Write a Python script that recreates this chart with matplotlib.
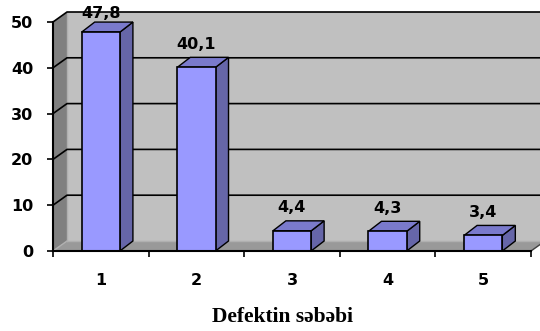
import matplotlib
matplotlib.use("Agg")
import matplotlib.pyplot as plt
from matplotlib.patches import Polygon, Rectangle

# ---------------------------------------------------------------------------
# Data
# ---------------------------------------------------------------------------

categories = ["1", "2", "3", "4", "5"]
values = [47.8, 40.1, 4.4, 4.3, 3.4]
y_ticks = [0, 10, 20, 30, 40, 50]
x_title = "Defektin səbəbi"

# ---------------------------------------------------------------------------
# Style
# ---------------------------------------------------------------------------

WALL = "#c0c0c0"
SIDE_WALL = "#808080"
FLOOR = "#999999"
BAR_FRONT = "#9999ff"
BAR_SIDE = "#6666a8"
BAR_TOP = "#7a7acc"

W, H, DPI = 540, 331, 100
fig = plt.figure(figsize=(W / DPI, H / DPI), dpi=DPI)

# front plane of the chart, in pixels
left_px, right_px, bottom_px, top_px = 53, 531, 251, 22
ax = fig.add_axes([left_px / W, 1 - bottom_px / H,
                   (right_px - left_px) / W, (bottom_px - top_px) / H])
n = len(categories)
ymax = y_ticks[-1]
ax.set_xlim(0.5, n + 0.5)
ax.set_ylim(0, ymax)

# depth offset of the back wall, converted from pixels to data units
x_per_px = n / (right_px - left_px)
y_per_px = ymax / (bottom_px - top_px)
dx, dy = 14 * x_per_px, 10 * y_per_px
bdx, bdy = 13 * x_per_px, 10 * y_per_px
x0, x1 = 0.5, n + 0.5

def poly(pts, fc, ec="none", lw=0, z=1):
    ax.add_patch(Polygon(pts, closed=True, facecolor=fc, edgecolor=ec,
                         linewidth=lw, zorder=z, clip_on=False))

# walls and floor
poly([(x0 + dx, dy), (x1 + dx, dy), (x1 + dx, ymax + dy), (x0 + dx, ymax + dy)], WALL, z=0)
poly([(x0, 0), (x0 + dx, dy), (x0 + dx, ymax + dy), (x0, ymax)], SIDE_WALL, z=0)
poly([(x0, 0), (x1, 0), (x1 + dx, dy), (x0 + dx, dy)], FLOOR, z=0)
ax.plot([x0 + dx, x0 + dx], [dy, ymax + dy], color="#b0b0b0", lw=1, zorder=0.5, clip_on=False)
ax.plot([x0 + dx, x1 + dx], [dy, dy], color="#b0b0b0", lw=1, zorder=0.5, clip_on=False)
ax.plot([x0, x0 + dx], [0, dy], color="#b0b0b0", lw=1, zorder=0.5, clip_on=False)
ax.plot([x1, x1 + dx], [0, dy], color="#404040", lw=1, zorder=0.5, clip_on=False)

# gridlines on the back wall and the side wall
for t in y_ticks[1:]:
    ax.plot([x0, x0 + dx, x1 + dx], [t, t + dy, t + dy], color="black",
            lw=1.2, zorder=0.8, clip_on=False)

# 3-D looking bars
bw = 0.4
for i, v in enumerate(values):
    c = i + 1
    a, b = c - bw / 2, c + bw / 2
    poly([(b, 0), (b + bdx, bdy), (b + bdx, v + bdy), (b, v)], BAR_SIDE, "black", 1, 2)
    poly([(a, v), (b, v), (b + bdx, v + bdy), (a + bdx, v + bdy)], BAR_TOP, "black", 1, 2)
    ax.add_patch(Rectangle((a, 0), bw, v, facecolor=BAR_FRONT, edgecolor="black",
                           linewidth=1.2, zorder=3, clip_on=False))
    ax.text(c, min(v + 5, 51.8), f"{v:.1f}".replace(".", ","), ha="center", va="center",
            fontsize=11.5, fontweight="bold", zorder=4, clip_on=False)

# axes
for s in ("top", "right"):
    ax.spines[s].set_visible(False)
for s in ("left", "bottom"):
    ax.spines[s].set_linewidth(1.5)
    ax.spines[s].set_zorder(5)
ax.patch.set_visible(False)

ax.set_yticks(y_ticks)
ax.set_yticklabels([str(t) for t in y_ticks], fontsize=11.5, fontweight="bold")
ax.tick_params(axis="y", length=4.3, width=1.2, pad=10)

ax.set_xticks(range(1, n + 1))
ax.set_xticklabels(categories, fontsize=11.5, fontweight="bold")
ax.tick_params(axis="x", which="major", length=0, pad=16)
ax.set_xticks([k + 0.5 for k in range(n + 1)], minor=True)
ax.tick_params(axis="x", which="minor", length=4.3, width=1.2)

fig.text(282.5 / W, 1 - 317 / H, x_title, ha="center", va="center",
         fontsize=15.5, fontweight="bold", family="Liberation Serif")

fig.savefig("out.png", dpi=DPI)
